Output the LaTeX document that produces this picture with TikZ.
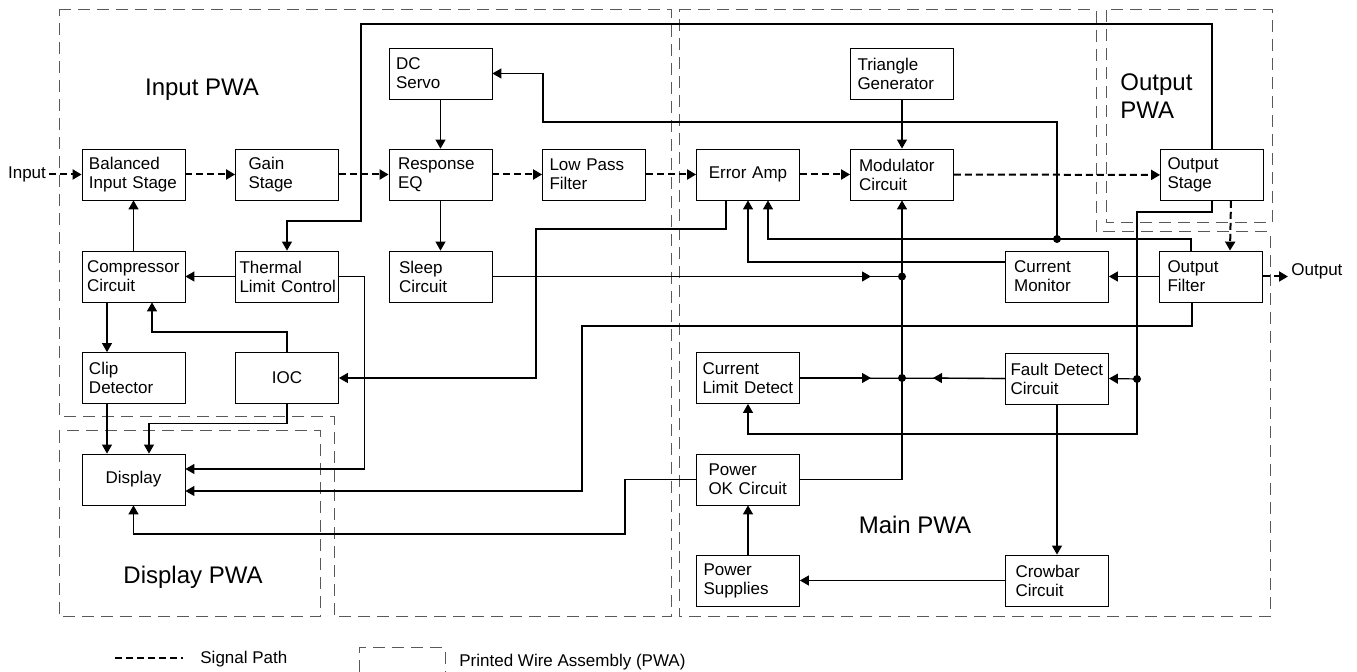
\documentclass[tikz,border=0pt]{standalone}
\usepackage{fontspec}
\setmainfont{Liberation Sans}
\usetikzlibrary{arrows.meta,calc}

\tikzset{
	box/.style={draw, minimum height=25.5pt, text width=44.5pt, inner xsep=3.5pt, inner ysep=0pt, align=left, font=\fontsize{8.5}{9.5}\selectfont},
	sigline/.style={line width=1pt, dash pattern=on 3.5pt off 2pt},
	sig/.style={sigline, -{Triangle[length=4.5pt,width=5pt]}},
	arr/.style={line width=0.6pt, -{Triangle[length=4.5pt,width=5pt]}},
	wire/.style={line width=0.6pt},
	pwa/.style={black!65, line width=0.5pt, dash pattern=on 6pt off 3.5pt},
	lbl/.style={font=\fontsize{12}{14}\selectfont, inner sep=1.5pt},
	txt/.style={font=\fontsize{8.5}{9.5}\selectfont, inner sep=1.5pt},
}

\begin{document}
\begin{tikzpicture}[x=0.5pt, y=-0.5pt]
	\useasboundingbox (0,0) rectangle (1357,672);

	\draw[pwa] (59,10) -- (671,10) -- (671,617) -- (334,617) -- (334,417) -- (59,417) -- cycle;
	\draw[pwa] (59,431) rectangle (320,617);
	\draw[pwa] (679,10) -- (1096,10) -- (1096,232) -- (1270,232) -- (1270,617) -- (679,617) -- cycle;
	\draw[pwa] (1106,10) rectangle (1272,223);

	\node[lbl] (inpwa) at (202,90) {Input PWA};
	\node[lbl] (dispwa) at (193,577) {Display PWA};
	\node[lbl] (mainpwa) at (915,525) {Main PWA};
	\node[lbl, align=left, anchor=west] (outpwa) at (1117,96) {Output\\PWA};

	\node[box] (bal) at (133.5,174.5) {Balanced\\\mbox{Input Stage}};
	\node[box, inner xsep=6.5pt, text width=38.5pt] (gain) at (287,174.5) {Gain\\Stage};
	\node[box, inner xsep=4.5pt, text width=42.5pt] (resp) at (440.5,174.5) {Response\\EQ};
	\node[box] (lpf) at (594,174.5) {Low Pass\\Filter};
	\node[box] (dcs) at (440.5,73.5) {DC\\Servo};
	\node[box, inner xsep=2.5pt, text width=46.5pt] (comp) at (133.5,276.5) {\mbox{Compressor}\\Circuit};
	\node[box, inner xsep=2pt, text width=47.5pt] (therm) at (287,276.5) {Thermal\\\mbox{Limit Control}};
	\node[box, inner xsep=5pt, text width=41.5pt] (sleep) at (440.5,276.5) {Sleep\\Circuit};
	\node[box] (clip) at (133.5,378) {Clip\\Detector};
	\node[box, align=center] (ioc) at (287,378) {IOC};
	\node[box, align=center] (disp) at (133.5,479.5) {Display};

	\node[box, align=center] (err) at (748,174.5) {Error Amp};
	\node[box, inner xsep=4.25pt, text width=43pt] (mod) at (902,174.5) {Modulator\\Circuit};
	\node[box] (tri) at (902,73.5) {Triangle\\Generator};
	\node[box] (outst) at (1212,175) {Output\\Stage};
	\node[box, inner xsep=4.3pt, text width=42.9pt] (curmon) at (1057,276.5) {Current\\Monitor};
	\node[box, inner xsep=4pt, text width=43.5pt] (outf) at (1211,276.5) {Output\\Filter};
	\node[box, inner xsep=3pt, text width=45.5pt] (cld) at (748,378) {Current\\\mbox{Limit Detect}};
	\node[box, inner xsep=2.5pt, text width=46.5pt] (fault) at (1057,378.5) {\mbox{Fault Detect}\\Circuit};
	\node[box, inner xsep=6pt, text width=39.5pt] (pok) at (748,479.5) {Power\\\mbox{OK Circuit}};
	\node[box] (psu) at (748,580.5) {Power\\Supplies};
	\node[box, inner xsep=5pt, text width=41.5pt] (crow) at (1057,580.5) {Crowbar\\Circuit};

	\node[txt] (in) at (27,174) {Input};
	\node[txt, anchor=west] (out) at (1288,271) {Output};

	\draw[sig] (in.east |- bal) -- (bal);
	\draw[sig] (bal) -- (gain);
	\draw[sig] (gain) -- (resp);
	\draw[sig] (resp) -- (lpf);
	\draw[sig] (lpf) -- (err);
	\draw[sig] (err) -- (mod);
	\draw[sig] (mod) -- (outst);
	\draw[sig] ($(outst.south)+(19,0)$) -- ($(outf.north)+(19,0)$);
	\draw[sig] (outf) -- (outf -| out.west);

	\coordinate (j1) at (mod.south |- sleep.east);
	\coordinate (j2) at (mod.south |- cld.east);
	\coordinate (j3) at (1057,239);
	\coordinate (j4) at (1137,379);

	\draw[arr] (dcs) -- (resp);
	\draw[arr] (resp) -- (sleep);
	\draw[arr] (tri) -- (mod);
	\draw[arr] (comp) -- (bal);
	\draw[arr] (therm) -- (comp);
	\draw[arr] ($(comp.south)+(-26.5,0)$) -- ($(clip.north)+(-26.5,0)$);
	\draw[arr] ($(clip.south)+(-26.5,0)$) -- ($(disp.north)+(-26.5,0)$);
	\draw[arr] (ioc.north) -- ++(0,-20) -| ($(comp.south)+(18.5,0)$);
	\draw[arr] (ioc.south) -- ++(0,20) -| ($(disp.north)+(15.5,0)$);
	\draw[arr] (therm.east) -- ++(25.5,0) |- ($(disp.east)+(0,-10.5)$);
	\draw[arr] ($(outf.south)+(-19,0)$) |- (582,326) |- ($(disp.east)+(0,11.5)$);
	\draw[arr] (pok.west) -| (625,534) -| (disp.south);
	\draw[arr] (pok.east) -| (mod.south);

	\draw[wire] (sleep.east) -- (j1);
	\draw[arr] (sleep.east) -- ($(j1)+(-31,0)$);
	\draw[wire] (cld.east) -- (fault.west);
	\draw[arr] (cld.east) -- ($(j2)+(-31,0)$);
	\draw[arr] (fault.west) -- ($(j2)+(31,0)$);

	\draw[arr] ($(err.south)+(-22,0)$) |- (536,229) |- (ioc.east);
	\draw[arr] ($(curmon.west)+(0,-14.5)$) -| (err.south);
	\draw[arr] ($(outf.north)+(-20,0)$) |- (j3) -| ($(err.south)+(20,0)$);
	\draw[arr] (j3) |- (543,122) |- (dcs.east);
	\draw[arr] (outst.north) |- (361,24) -- (361,221) -| (therm.north);
	\draw[arr] (outst.south) |- (j4 |- 0,212) -- (j4 |- 0,434) -| (cld.south);
	\draw[arr] (j4) -- (fault.east);
	\draw[arr] (outf) -- (curmon);
	\draw[arr] (fault) -- (crow);
	\draw[arr] (crow) -- (psu);
	\draw[arr] (psu) -- (pok);

	\foreach \j in {j1,j2,j3,j4}
		\fill (\j) circle (2pt);

	\draw[sigline] (115,658) -- (183,658);
	\node[txt, anchor=west] (lsig) at (197,659) {Signal Path};
	\draw[pwa] (359,672) |- (445,648) -- (445,672);
	\node[txt, anchor=west] (lpwa) at (456,662) {Printed Wire Assembly (PWA)};
\end{tikzpicture}
\end{document}
